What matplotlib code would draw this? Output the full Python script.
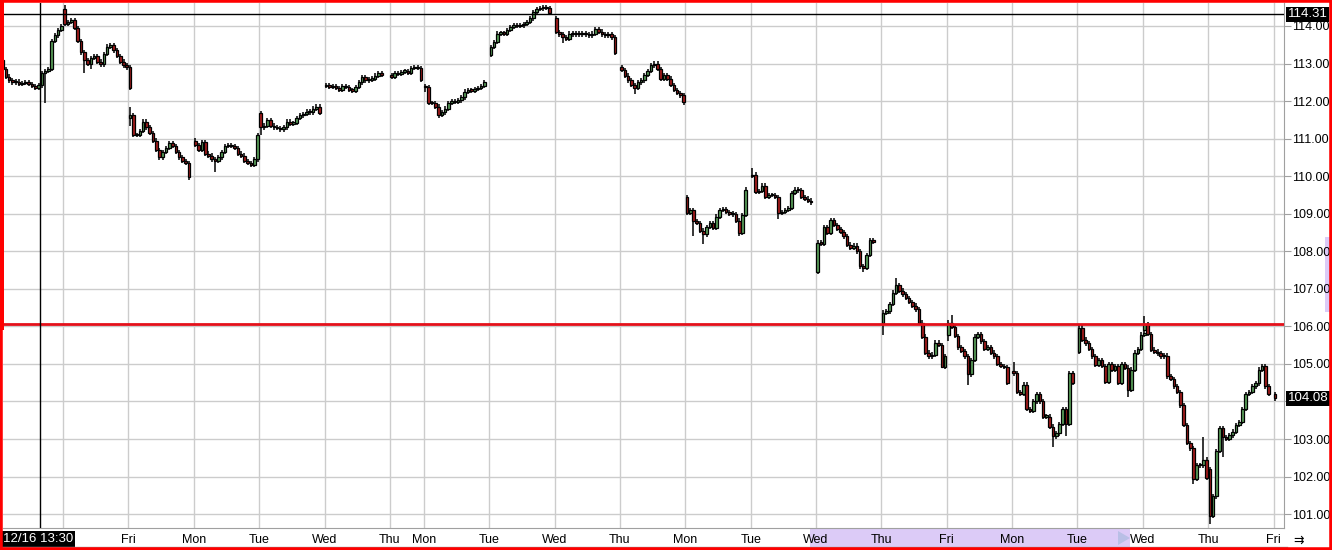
import matplotlib
matplotlib.use("Agg")
import matplotlib.pyplot as plt
from matplotlib.patches import Rectangle, Polygon
from matplotlib.transforms import blended_transform_factory
import numpy as np

plt.rcParams['font.family'] = ['Liberation Sans', 'DejaVu Sans']

# ---------------------------------------------------------------
# data: one list of closes per session, open of the first candle per session
# session 0 is the partial one at the left edge, session 6 is a half day
day_names = ["", "Fri", "Mon", "Tue", "Wed", "Thu", "Mon", "Tue", "Wed", "Thu",
             "Mon", "Tue", "Wed", "Thu", "Fri", "Mon", "Tue", "Wed", "Thu", "Fri"]
sess_len = [1, 1, 1, 1, 1, 0.52, 1, 1, 1, 1, 1, 1, 1, 1, 1, 1, 1, 1, 1, 1]

sess_open = [113.1, 114.45, 111.55, 110.95, 111.68, 112.4, 112.7, 112.4, 113.23, 114.2,
             112.9, 109.45, 110.0, 107.46, 106.1, 105.78, 104.8, 105.33, 105.9, 102.2, 104.2]

closes = [
    [112.85, 112.65, 112.55, 112.5, 112.52, 112.45, 112.48, 112.5, 112.45, 112.4,
     112.35, 112.42, 112.75, 112.8, 112.85, 113.6, 113.75, 113.9, 114.0],
    [114.05, 114.1, 114.15, 113.95, 113.6, 113.3, 113.1, 113.0, 113.15, 113.2, 113.05,
     112.98, 113.25, 113.45, 113.5, 113.35, 113.2, 113.05, 112.95, 112.9, 112.35],
    [111.62, 111.1, 111.1, 111.2, 111.45, 111.3, 111.15, 110.95, 110.7, 110.5, 110.65,
     110.75, 110.88, 110.8, 110.65, 110.5, 110.4, 110.35, 109.98],
    [110.83, 110.7, 110.9, 110.6, 110.55, 110.45, 110.4, 110.5, 110.65, 110.8, 110.83,
     110.8, 110.75, 110.6, 110.55, 110.4, 110.35, 110.3, 110.45, 111.1],
    [111.3, 111.35, 111.5, 111.35, 111.3, 111.28, 111.25, 111.3, 111.45, 111.4, 111.42,
     111.55, 111.62, 111.65, 111.72, 111.7, 111.8, 111.85, 111.68],
    [112.43, 112.38, 112.4, 112.35, 112.3, 112.4, 112.38, 112.3, 112.28, 112.38, 112.5,
     112.63, 112.55, 112.57, 112.6, 112.68, 112.75, 112.7],
    [112.65, 112.75, 112.72, 112.78, 112.8, 112.75, 112.88, 112.9, 112.88, 112.56],
    [112.37, 111.95, 111.95, 111.85, 111.63, 111.7, 111.8, 111.95, 112.0, 111.98, 112.02,
     112.1, 112.25, 112.3, 112.28, 112.32, 112.35, 112.4, 112.5],
    [113.44, 113.58, 113.8, 113.82, 113.8, 113.9, 113.97, 114.02, 114.0, 114.02, 114.05,
     114.1, 114.2, 114.37, 114.45, 114.47, 114.5, 114.48, 114.35],
    [113.84, 113.78, 113.7, 113.65, 113.8, 113.78, 113.8, 113.78, 113.8, 113.78, 113.75,
     113.8, 113.92, 113.85, 113.78, 113.75, 113.78, 113.7, 113.28],
    [112.83, 112.68, 112.55, 112.43, 112.35, 112.5, 112.55, 112.7, 112.8, 112.95, 113.0,
     112.85, 112.6, 112.7, 112.6, 112.43, 112.3, 112.22, 112.15, 111.98],
    [109.03, 109.1, 108.8, 108.75, 108.55, 108.45, 108.65, 108.75, 108.62, 108.92, 109.1,
     109.12, 109.05, 109.0, 108.98, 108.82, 108.5, 108.97, 109.64],
    [110.04, 109.58, 109.6, 109.75, 109.45, 109.5, 109.5, 109.45, 109.02, 109.05, 109.1,
     109.15, 109.55, 109.64, 109.62, 109.45, 109.4, 109.35, 109.3],
    [108.23, 108.2, 108.65, 108.5, 108.84, 108.7, 108.6, 108.52, 108.4, 108.18, 108.1,
     108.15, 108.0, 107.6, 107.55, 107.9, 108.3, 108.25],
    [106.37, 106.4, 106.6, 106.9, 107.1, 106.95, 106.85, 106.75, 106.65, 106.55, 106.45,
     106.1, 105.73, 105.3, 105.2, 105.25, 105.57, 105.5, 104.93, 105.2],
    [106.1, 105.98, 105.75, 105.44, 105.35, 105.2, 104.72, 105.1, 105.73, 105.8, 105.6,
     105.4, 105.45, 105.3, 105.2, 105.0, 104.95, 104.92, 104.5],
    [104.75, 104.25, 104.2, 104.45, 103.8, 103.75, 104.0, 104.2, 104.0, 103.6, 103.6,
     103.33, 103.07, 103.15, 103.4, 103.8, 103.4, 104.75, 104.5],
    [105.97, 105.65, 105.55, 105.4, 105.2, 104.98, 105.1, 104.95, 104.53, 105.0, 104.85,
     104.95, 104.5, 105.0, 104.9, 104.3, 104.85, 105.3, 105.4, 105.78, 105.8],
    [106.07, 105.8, 105.38, 105.33, 105.28, 105.2, 105.22, 104.67, 104.6, 104.4, 104.25,
     103.9, 103.37, 102.9, 102.75, 101.93, 102.3, 102.3, 102.45, 101.97],
    [100.95, 101.47, 102.68, 103.3, 103.05, 103.0, 103.1, 103.2, 103.37, 103.45, 103.8,
     104.2, 104.25, 104.4, 104.48, 104.85, 104.95, 104.4, 104.2],
    [104.08],
]

# long wicks: (session, candle, high, low), None keeps the normal wick
spikes = [
    (0, 13, None, 111.95), (1, 0, 114.55, None), (1, 6, None, 112.75), (1, 8, None, 112.85),
    (2, 0, 111.85, 111.35), (2, 18, None, 109.9), (3, 6, None, 110.1), (4, 0, None, 111.1),
    (7, 0, None, 112.25), (7, 4, None, 111.55), (8, 0, None, 113.17), (9, 2, None, 113.55),
    (10, 4, None, 112.18), (10, 19, None, 111.9), (11, 2, None, 108.4), (11, 5, None, 108.2),
    (11, 16, None, 108.4), (12, 0, 110.22, None), (12, 8, None, 108.85), (13, 14, None, 107.45),
    (14, 0, None, 105.78), (14, 4, 107.3, None), (14, 18, None, 104.9), (15, 0, None, 105.6),
    (15, 1, 106.3, None), (15, 6, None, 104.45), (16, 0, 105.05, None), (16, 12, None, 102.78),
    (16, 16, None, 103.07), (17, 15, None, 104.13), (18, 0, 106.28, None), (18, 15, None, 101.8),
    (18, 18, 103.05, None), (19, 0, None, 100.73), (19, 4, None, 102.52), (19, 16, 105.0, None),
]

last_price = 104.08
high_mark = 114.31
red_level = 106.07
cursor_label = "12/16 13:30"
y_ticks = list(range(101, 115))

# ---------------------------------------------------------------
SLOTS = 20        # candles per full session
WICK = 0.06
BODY_W = 0.8 / SLOTS
FIRST_START = -0.95
CURSOR_X = -0.35

W, H = 1332, 550
fig = plt.figure(figsize=(W / 100, H / 100), dpi=100, facecolor="white")
ax = fig.add_axes([3 / W, 22 / H, 1281 / W, 525 / H])

starts = [FIRST_START] + list(np.concatenate([[0], np.cumsum(sess_len)]))
spike_map = {(d, i): (hi, lo) for d, i, hi, lo in spikes}

xs, o_, c_, h_, l_ = [], [], [], [], []
for d, cl in enumerate(closes):
    prev = sess_open[d]
    for i, c in enumerate(cl):
        o = prev
        hi = max(o, c) + WICK
        lo = min(o, c) - WICK
        if (d, i) in spike_map:
            shi, slo = spike_map[(d, i)]
            hi = shi if shi is not None else hi
            lo = slo if slo is not None else lo
        xs.append(starts[d] + (i + 0.5) / SLOTS)
        o_.append(o); c_.append(c); h_.append(hi); l_.append(lo)
        prev = c

xs = np.array(xs); o_ = np.array(o_); c_ = np.array(c_)
h_ = np.array(h_); l_ = np.array(l_)
up = c_ >= o_
cols = np.where(up, "#5a9e5a", "#a51c1c")

ax.vlines(xs, l_, h_, color="black", lw=1.1, zorder=3)
ax.bar(xs, np.maximum(np.abs(c_ - o_), 0.035), bottom=np.minimum(o_, c_), width=BODY_W,
       color=cols, edgecolor="black", linewidth=0.9, zorder=4)

# lines
ax.axhline(high_mark, color="black", lw=1, zorder=5)
ax.axhline(red_level, color="#e4101a", lw=2, zorder=5)
ax.axvline(CURSOR_X, color="black", lw=1, zorder=5)

# axes
day_x = starts[1:1 + len(day_names)]
ax.set_xlim(-0.919, 18.68)
ax.set_ylim(100.631, 114.6125)
ax.set_xticks(day_x)
ax.set_xticklabels(day_names, fontsize=9)
ax.tick_params(axis="x", length=0, pad=4)
ax.yaxis.tick_right()
ax.set_yticks(y_ticks)
# 104.00 sits under the last price box, as in the reference
ax.set_yticklabels(["" if v == 104 else f"{v:.2f}" for v in y_ticks], fontsize=9)
ax.tick_params(axis="y", length=5, color="#a0a0a0", pad=1)
ax.grid(True, color="#cccccc", lw=1, zorder=0)
for s in ["top", "left"]:
    ax.spines[s].set_visible(False)
ax.spines["right"].set_color("#a0a0a0")
ax.spines["bottom"].set_color("#a0a0a0")

# price boxes on the right
tr = blended_transform_factory(ax.transAxes, ax.transData)
for v in [high_mark, last_price]:
    ax.text(1.003, v, f"{v:.2f}", transform=tr, ha="left", va="center", fontsize=9.5,
            color="white", bbox=dict(boxstyle="square,pad=0.12", fc="black", ec="none"),
            zorder=10, clip_on=False)

# cursor time box
trx = blended_transform_factory(ax.transData, fig.transFigure)
ax.text(CURSOR_X - 0.03, 11 / H, cursor_label, transform=trx, ha="center", va="center",
        fontsize=9.5, color="white", zorder=10,
        bbox=dict(boxstyle="square,pad=0.15", fc="black", ec="none"))

# scroll band under the x axis (behind the tick labels)
fig.patches.append(Rectangle((810 / W, 3 / H), 320 / W, 18 / H, transform=fig.transFigure,
                             fc="#dccbf7", ec="none", zorder=-5))
fig.patches.append(Polygon([[1118 / W, 19 / H], [1118 / W, 5 / H], [1130 / W, 12 / H]],
                           closed=True, transform=fig.transFigure, fc="#b9bfe6", ec="none",
                           zorder=-4))
fig.patches.append(Rectangle((1325 / W, (H - 312) / H), 5 / W, 75 / H, transform=fig.transFigure,
                             fc="#dccbf7", ec="none", zorder=-5))
fig.add_artist(plt.Line2D([0, 1287 / W], [3 / H, 3 / H], color="#a0a0a0", lw=1,
                          transform=fig.transFigure))
fig.text(1299 / W, 9 / H, "⇉", fontsize=9, ha="center", va="center")

# red frame
fig.patches.append(Rectangle((0, 0), 1, 1, transform=fig.transFigure, fill=False,
                             ec="#ff0000", lw=4, zorder=20))
fig.patches.append(Rectangle((0, (H - 330) / H), 4 / W, 330 / H, transform=fig.transFigure,
                             fc="#ff0000", ec="none", zorder=20))

fig.savefig("out.png", dpi=100, facecolor="white")
